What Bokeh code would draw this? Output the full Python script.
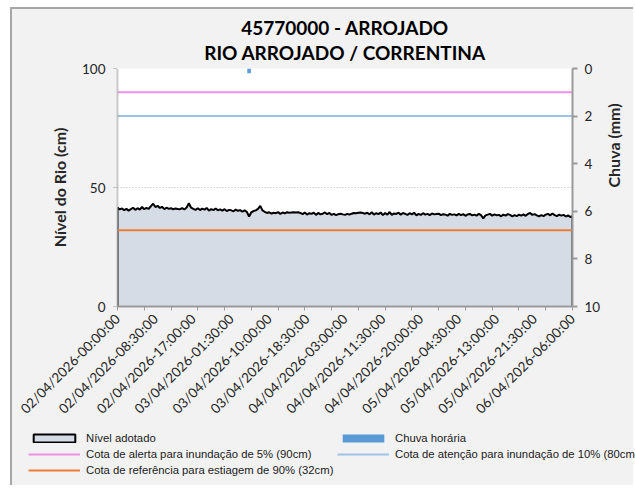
from bokeh.plotting import figure
from bokeh.models import Range1d, LinearAxis, FixedTicker, Legend, LegendItem, Title, Spacer
from bokeh.layouts import column, row
from bokeh.embed import file_html
from bokeh.resources import INLINE

# ---- data ----
# river level every 30 min from 02/04/2026 00:00 (hours 0 .. 102)
level_cm = [
    41.6, 40.8, 41.2, 40.5, 41.0, 40.3, 40.9, 41.5, 40.6, 41.3, 40.7, 41.8, 40.9, 41.4, 41.0,
    42.2, 43.2, 41.8, 42.3, 41.4, 41.9, 40.9, 41.5, 41.0, 41.3, 40.8, 41.2, 41.0, 40.9, 41.3, 40.8,
    41.6, 43.4, 41.5, 41.0, 40.6, 41.3, 40.5, 41.1, 40.7, 41.4, 40.3, 40.9, 40.5, 41.2, 40.4, 40.8,
    40.3, 40.9, 40.1, 40.6, 40.4, 40.0, 40.7, 40.2, 40.5, 39.9, 40.4, 39.7, 37.8, 39.6, 40.1, 40.4,
    41.0, 42.3, 40.4, 39.8, 39.3, 39.6, 39.0, 39.4, 39.2, 39.7, 38.9, 39.5, 39.1, 39.6, 39.4, 39.5,
    39.6, 39.5, 39.6, 39.3, 38.8, 39.5, 38.6, 39.2, 38.9, 39.4, 38.5, 39.3, 38.7, 39.0, 39.5, 38.8,
    39.3, 38.5, 38.9, 38.4, 38.8, 39.0, 38.7, 38.5, 38.9, 38.6, 39.0, 39.3, 39.2, 39.4, 39.5, 39.3,
    39.0, 39.4, 38.7, 39.6, 38.6, 39.2, 38.8, 39.5, 38.4, 39.3, 38.6, 39.7, 38.5, 39.1, 38.9, 39.4,
    38.6, 39.3, 38.9, 38.5, 39.2, 38.7, 39.4, 38.3, 38.9, 38.5, 39.2, 38.6, 38.9, 38.4, 39.1, 38.7,
    38.9, 39.0, 38.4, 38.8, 38.6, 38.2, 38.9, 38.5, 38.7, 38.3, 38.9, 38.4, 38.8, 38.1, 38.7, 38.9,
    38.3, 38.6, 38.2, 38.9, 38.4, 37.0, 38.3, 38.6, 38.9, 38.2, 38.7, 38.3, 38.5, 37.9, 38.6, 38.2,
    38.8, 38.5, 37.9, 38.4, 38.0, 38.6, 38.2, 38.7, 38.1, 38.9, 39.3, 38.5, 38.8, 38.3, 37.9, 38.4,
    38.0, 38.6, 38.9, 38.3, 39.1, 38.4, 38.0, 38.6, 38.2, 38.5, 37.8, 38.3, 37.6, 38.0,
]
sample_step_h = 0.5
hours = [i * sample_step_h for i in range(len(level_cm))]

rain_hours = [29.5]
rain_mm = [0.2]
cota_alerta = 90
cota_atencao = 80
cota_estiagem = 32

tick_hours = [0, 8.5, 17, 25.5, 34, 42.5, 51, 59.5, 68, 76.5, 85, 93.5, 102]
tick_labels = ["02/04/2026-00:00:00", "02/04/2026-08:30:00", "02/04/2026-17:00:00",
               "03/04/2026-01:30:00", "03/04/2026-10:00:00", "03/04/2026-18:30:00",
               "04/04/2026-03:00:00", "04/04/2026-11:30:00", "04/04/2026-20:00:00",
               "05/04/2026-04:30:00", "05/04/2026-13:00:00", "05/04/2026-21:30:00",
               "06/04/2026-06:00:00"]
minor_tick_hours = [0, 6, 12, 18, 24, 30, 36, 42, 48, 54, 60, 66, 72, 78, 84, 90, 96, 102]
y_ticks = [0, 50, 100]
rain_ticks = [0, 2, 4, 6, 8, 10]

FONT = "Lato"
TXT = "#262626"
BG = "#f2f2f2"
FRAME = "2px solid #a6a6a6"
NAN = float("nan")

C_AREA = "#d6dce5"
C_ALERTA = "#ee8fe8"
C_ATENCAO = "#9dc3e6"
C_ESTIAGEM = "#ed7d31"
C_RAIN = "#5b9bd5"

p = figure(width=623, height=416, x_range=Range1d(0, 102), y_range=Range1d(0, 100),
           output_backend="svg", toolbar_location=None,
           min_border_left=105, min_border_right=63, min_border_top=59, min_border_bottom=117,
           background_fill_color="white", border_fill_color=BG,
           outline_line_color=None)
p.styles = {"border-left": FRAME, "border-top": FRAME}

p.extra_y_ranges = {"rain": Range1d(10, 0)}

x_first, x_last = hours[0], hours[-1]
p.varea(x=hours, y1=[0] * len(hours), y2=level_cm, fill_color=C_AREA)
p.line(x=[x_first] + hours + [x_last], y=[0] + level_cm + [0], line_color="black", line_width=2)
p.line(x=[x_first, x_last], y=[cota_alerta, cota_alerta], line_color=C_ALERTA, line_width=2)
p.line(x=[x_first, x_last], y=[cota_atencao, cota_atencao], line_color=C_ATENCAO, line_width=2)
p.line(x=[x_first, x_last], y=[cota_estiagem, cota_estiagem], line_color=C_ESTIAGEM, line_width=2)
p.vbar(x=rain_hours, top=rain_mm, bottom=0, width=0.8, fill_color=C_RAIN,
       line_color=None, y_range_name="rain")

# grid
p.xgrid.visible = False
p.ygrid.ticker = FixedTicker(ticks=y_ticks)
p.ygrid.grid_line_color = "#b4b4b4"
p.ygrid.grid_line_dash = "1 2"
p.ygrid.grid_line_width = 1

# x axis
xa = p.xaxis[0]
xa.ticker = FixedTicker(ticks=tick_hours, minor_ticks=minor_tick_hours)
xa.major_label_overrides = {h: l for h, l in zip(tick_hours, tick_labels)}
xa.major_label_orientation = 0.785398
xa.major_tick_line_color = None
xa.major_tick_out = 0
xa.minor_tick_out = 4
xa.minor_tick_in = 0
xa.minor_tick_line_color = "#9a9a9a"
xa.axis_line_color = "#9a9a9a"
xa.axis_line_width = 2
xa.major_label_standoff = 6
xa.major_label_text_font = FONT
xa.major_label_text_font_size = "13.5px"
xa.major_label_text_color = TXT

# left axis
ya = p.yaxis[0]
ya.ticker = FixedTicker(ticks=y_ticks)
ya.minor_tick_line_color = None
ya.major_tick_out = 4
ya.major_tick_in = 0
ya.major_tick_line_color = "#9a9a9a"
ya.major_tick_line_dash = "1 1"
ya.axis_line_color = "#9a9a9a"
ya.axis_line_dash = "1 1"
ya.axis_line_width = 2
ya.major_label_standoff = 8
ya.major_label_text_font = FONT
ya.major_label_text_font_size = "13.5px"
ya.major_label_text_color = TXT
ya.axis_label = "Nível do Rio (cm)"
ya.axis_label_text_font = FONT
ya.axis_label_text_font_style = "bold"
ya.axis_label_text_font_size = "16px"
ya.axis_label_text_color = TXT
ya.axis_label_standoff = 10

# right axis
ra = LinearAxis(y_range_name="rain", ticker=FixedTicker(ticks=rain_ticks))
ra.minor_tick_line_color = None
ra.major_tick_out = 5
ra.major_tick_in = 0
ra.major_tick_line_color = "#9a9a9a"
ra.major_tick_line_width = 2
ra.axis_line_color = "#9a9a9a"
ra.axis_line_width = 2
ra.major_label_standoff = 7
ra.major_label_text_font = FONT
ra.major_label_text_font_size = "13.5px"
ra.major_label_text_color = TXT
ra.axis_label = "Chuva (mm)"
ra.axis_label_text_font = FONT
ra.axis_label_text_font_style = "bold"
ra.axis_label_text_font_size = "16px"
ra.axis_label_text_color = TXT
ra.axis_label_standoff = 10
try:
    ra.axis_label_orientation = 1.5708
except Exception:
    pass
p.add_layout(ra, "right")

# titles (first added sits closest to the plot; standoff is the gap on the outer side)
pad = Title(text=" ", text_font_size="2px", standoff=1)
t2 = Title(text="RIO ARROJADO / CORRENTINA", align="center", text_font=FONT,
           text_font_size="19px", text_font_style="bold", text_color="black", standoff=0)
t1 = Title(text="45770000 - ARROJADO", align="center", text_font=FONT,
           text_font_size="19px", text_font_style="bold", text_color="black", standoff=0)
p.add_layout(pad, "above")
p.add_layout(t2, "above")
p.add_layout(t1, "above")

# ---- legend strip ----
lf = figure(width=623, height=62, x_range=Range1d(0, 1), y_range=Range1d(0, 1),
            output_backend="svg", toolbar_location=None, x_axis_type=None, y_axis_type=None,
            min_border=0, background_fill_color=BG, border_fill_color=BG,
            outline_line_color=None)
lf.styles = {"border-left": FRAME}
for fig in (p, lf):
    try:
        fig.frame_align = False
    except Exception:
        pass

g_area = lf.patch(x=[NAN], y=[NAN], fill_color=C_AREA, line_color="black", line_width=2)
g_alerta = lf.line(x=[NAN], y=[NAN], line_color=C_ALERTA, line_width=2)
g_estiagem = lf.line(x=[NAN], y=[NAN], line_color=C_ESTIAGEM, line_width=2)
g_atencao = lf.line(x=[NAN], y=[NAN], line_color=C_ATENCAO, line_width=2)
g_rain = lf.vbar(x=[NAN], top=[NAN], width=1, fill_color=C_RAIN, line_color=None)


def make_legend(items, loc):
    return Legend(items=items, location=loc, orientation="vertical",
                  background_fill_alpha=0, border_line_color=None, padding=0, margin=0,
                  spacing=2, glyph_width=52, glyph_height=10, label_height=14,
                  label_standoff=6, label_text_font="Liberation Sans",
                  label_text_font_size="11.3px", label_text_color="#1a1a1a")


lf.add_layout(make_legend([
    LegendItem(label="Nível adotado", renderers=[g_area]),
    LegendItem(label="Cota de alerta para inundação de 5% (90cm)", renderers=[g_alerta]),
    LegendItem(label="Cota de referência para estiagem de 90% (32cm)", renderers=[g_estiagem]),
], (16, 8)), "center")
lf.add_layout(make_legend([
    LegendItem(label="Chuva horária", renderers=[g_rain]),
    LegendItem(label="Cota de atenção para inundação de 10% (80cm)", renderers=[g_atencao]),
], (325, 24)), "center")

inner = column(p, lf, spacing=0, styles={"background-color": BG})
layout = column(Spacer(height=7), row(Spacer(width=10), inner, spacing=0), spacing=0)

open("out.html", "w").write(file_html(layout, INLINE))
